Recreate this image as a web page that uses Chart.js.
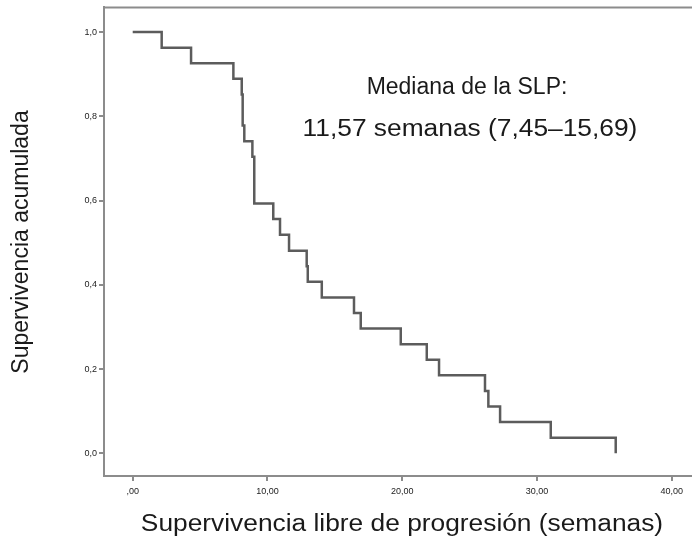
<!DOCTYPE html>
<html>
<head>
<meta charset="utf-8">
<script src="https://cdn.jsdelivr.net/npm/chart.js@4/dist/chart.umd.min.js"></script>
<style>
html,body{margin:0;padding:0;background:#fff;}
#wrap{position:relative;width:692px;height:542px;}
</style>
</head>
<body>
<div id="wrap"><canvas id="c" width="692" height="542"></canvas></div>
<script>
// Kaplan-Meier step curve (weeks, cumulative survival)
const times = [0, 2.15, 4.33, 7.47, 8.09, 8.16, 8.28, 8.88, 9.02, 10.43, 10.93, 11.60, 12.91, 12.99, 14.03, 16.42, 16.92, 19.89, 21.82, 22.73, 26.14, 26.39, 27.26, 31.02, 35.84];
const survival = [1.0, 0.963, 0.926, 0.889, 0.852, 0.778, 0.741, 0.704, 0.593, 0.556, 0.519, 0.481, 0.444, 0.407, 0.370, 0.333, 0.296, 0.259, 0.222, 0.185, 0.148, 0.111, 0.074, 0.037, 0.0];
const xTicks = [0, 10, 20, 30, 40];
const xTickLabels = [",00", "10,00", "20,00", "30,00", "40,00"];
const yTicks = [0, 0.2, 0.4, 0.6, 0.8, 1.0];
const yTickLabels = ["0,0", "0,2", "0,4", "0,6", "0,8", "1,0"];
const annotationLines = ["Mediana de la SLP:", "11,57 semanas (7,45\u201315,69)"];
const xTitle = "Supervivencia libre de progresi\u00f3n (semanas)";
const yTitle = "Supervivencia acumulada";

const FONT = "'Liberation Sans', Arial, sans-serif";

function drawStretched(ctx, text, cx, cy, size, sx) {
  ctx.save();
  ctx.translate(cx, cy);
  ctx.scale(sx, 1);
  ctx.font = size + 'px ' + FONT;
  ctx.fillText(text, 0, 0);
  ctx.restore();
}

const textPlugin = {
  id: 'texts',
  afterDraw(chart) {
    const ctx = chart.ctx;
    const a = chart.chartArea;
    ctx.save();
    // frame top line
    ctx.strokeStyle = '#8c8c8c';
    ctx.lineWidth = 2;
    ctx.beginPath();
    ctx.moveTo(a.left, a.top);
    ctx.lineTo(a.right + 5, a.top);
    ctx.stroke();
    ctx.fillStyle = '#1a1a1a';
    ctx.textAlign = 'center';
    ctx.textBaseline = 'middle';
    drawStretched(ctx, annotationLines[0], 467, 88, 23, 1.0);
    drawStretched(ctx, annotationLines[1], 470, 130, 23, 1.145);
    drawStretched(ctx, xTitle, 402, 525, 23.5, 1.12);
    ctx.translate(22, 242);
    ctx.rotate(-Math.PI / 2);
    ctx.font = '23px ' + FONT;
    ctx.fillText(yTitle, 0, 0);
    ctx.restore();
  }
};

new Chart(document.getElementById('c'), {
  type: 'line',
  data: {
    datasets: [{
      data: times.map((t, i) => ({ x: t, y: survival[i] })),
      stepped: 'before',
      borderColor: '#5c5c5c',
      borderWidth: 2.5,
      pointRadius: 0,
      fill: false,
      tension: 0
    }]
  },
  options: {
    responsive: false,
    animation: false,
    layout: { padding: { left: 0, top: 7, right: 0, bottom: 0 } },
    plugins: { legend: { display: false }, tooltip: { enabled: false } },
    scales: {
      x: {
        type: 'linear',
        min: -2.13,
        max: 41.5,
        afterBuildTicks(scale) { scale.ticks = xTicks.map(v => ({ value: v })); },
        afterFit(scale) { scale.height = 66; },
        grid: { drawOnChartArea: false, drawTicks: true, tickLength: 5, color: '#8c8c8c', lineWidth: 2 },
        border: { display: true, color: '#8c8c8c', width: 2 },
        ticks: {
          autoSkip: false,
          maxRotation: 0,
          padding: 5,
          color: '#222',
          font: { family: FONT, size: 9 },
          callback: (v) => xTickLabels[xTicks.indexOf(v)]
        }
      },
      y: {
        type: 'linear',
        min: -0.054,
        max: 1.0586,
        afterBuildTicks(scale) { scale.ticks = yTicks.map(v => ({ value: v })); },
        afterFit(scale) { scale.width = 104; },
        grid: { drawOnChartArea: false, drawTicks: true, tickLength: 5, color: '#8c8c8c', lineWidth: 2 },
        border: { display: true, color: '#8c8c8c', width: 2 },
        ticks: {
          autoSkip: false,
          padding: 2,
          color: '#222',
          font: { family: FONT, size: 9 },
          callback: (v) => {
            const i = yTicks.findIndex(t => Math.abs(t - v) < 1e-6);
            return i >= 0 ? yTickLabels[i] : '';
          }
        }
      }
    }
  },
  plugins: [textPlugin]
});
</script>
</body>
</html>
